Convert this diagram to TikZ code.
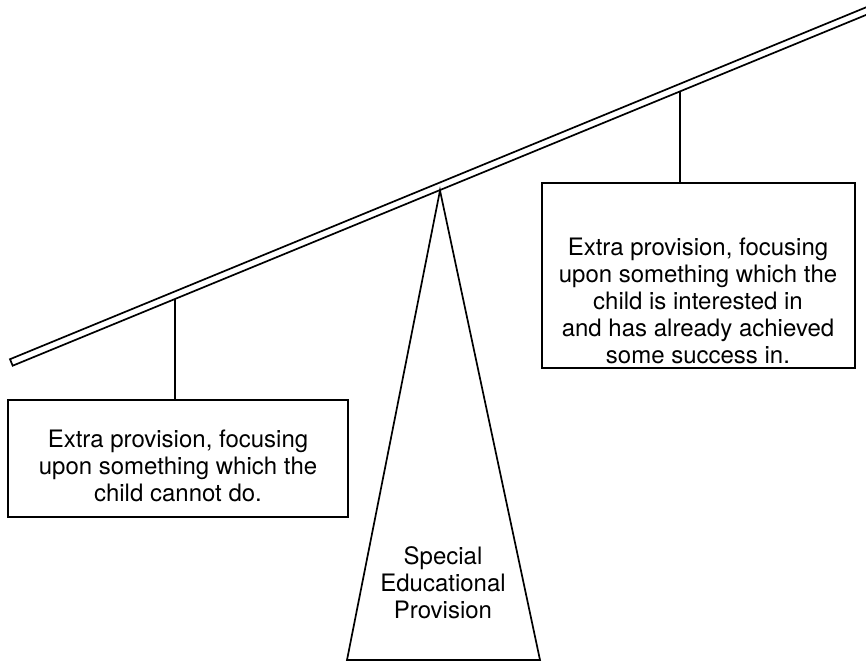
\documentclass[tikz,border=0pt]{standalone}
\usepackage{fontspec}
\setmainfont{TeX Gyre Heros}
\usetikzlibrary{positioning,calc}

\begin{document}
\begin{tikzpicture}[
    x=1pt, y=-1pt,
    line width=1.7pt, line join=miter,
    provbox/.style={draw, rectangle, inner sep=0pt},
    provtext/.style={align=center, inner sep=0pt, font=\fontsize{24}{27}\selectfont}
]
\useasboundingbox (0,0) rectangle (866,663);
\clip (0,0) rectangle (866,663);

% beam of the see-saw
\coordinate (bl) at (12.7,365.7);
\coordinate (tl) at ($(bl)+(-2.7,-6.5)$);
\coordinate (br) at (880,9.2);
\coordinate (tr) at ($(br)+(-2.7,-6.5)$);
\draw (br) -- (bl) -- (tl) -- (tr);

% fulcrum
\coordinate (apex) at (440,190.5);
\coordinate (fl) at (347,660);
\coordinate (fr) at (540,660);
\draw (apex) -- (fl) -- (fr) -- cycle;
\node[provtext] (sep) at (443,583) {Special\\Educational\\Provision};

% the two loads
\node[provbox, minimum width=340, minimum height=117] (lbox) at (178,458.5) {};
\node[provtext] (ltext) at (178,466) {Extra provision, focusing\\upon something which the\\child cannot do.};

\node[provbox, minimum width=313, minimum height=185] (rbox) at (698.5,275.5) {};
\node[provtext] (rtext) at (698,300.5) {Extra provision, focusing\\upon something which the\\child is interested in\\and has already achieved\\some success in.};

% hangers
\coordinate (lhang) at (175,299);
\coordinate (rhang) at (680,91.4);
\draw (lhang) -- (lhang |- lbox.north);
\draw (rhang) -- (rhang |- rbox.north);
\end{tikzpicture}
\end{document}
